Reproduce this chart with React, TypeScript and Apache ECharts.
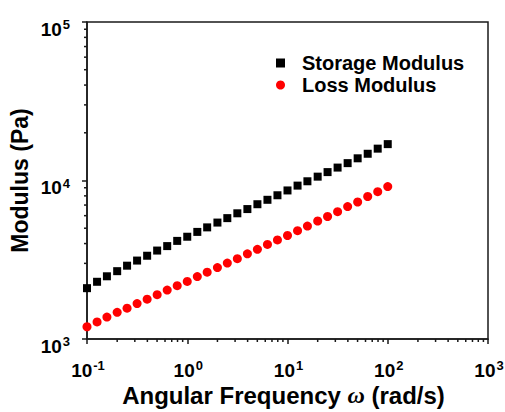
import React, { useEffect, useRef } from 'react';
import * as echarts from 'echarts';

const omega = [
  0.1, 0.126, 0.158, 0.2, 0.251, 0.316, 0.398, 0.501, 0.631, 0.794,
  1, 1.26, 1.58, 2, 2.51, 3.16, 3.98, 5.01, 6.31, 7.94,
  10, 12.6, 15.8, 20, 25.1, 31.6, 39.8, 50.1, 63.1, 79.4, 100,
];
const storageModulus = [
  2093, 2296, 2487, 2679, 2901, 3125, 3352, 3614, 3856, 4159,
  4418, 4739, 5061, 5427, 5789, 6210, 6603, 7085, 7555, 8070,
  8655, 9284, 9888, 10576, 11298, 12064, 12870, 13804, 14746, 15885, 16963,
];
const lossModulus = [
  1195, 1281, 1375, 1474, 1566, 1673, 1784, 1905, 2035, 2171,
  2309, 2476, 2641, 2821, 3013, 3214, 3446, 3681, 3950, 4218,
  4499, 4826, 5154, 5551, 5929, 6360, 6850, 7316, 7925, 8499, 9156,
];
const xRange = [0.1, 1000];
const yRange = [1000, 100000];
const xMajorTicks = [0.1, 1, 10, 100, 1000];
const yMajorTicks = [1000, 10000, 100000];
const minorMultipliers = [2, 3, 4, 5, 6, 7, 8, 9];
const xDecades = [0.1, 1, 10, 100];
const yDecades = [1000, 10000];

const FONT = '"Liberation Sans", Arial, sans-serif';

export default function App() {
  const ref = useRef<HTMLDivElement>(null);
  useEffect(() => {
    const chart = echarts.init(ref.current!, null, { renderer: 'svg' });
    const minorX: number[][] = [];
    xDecades.forEach((d) => minorMultipliers.forEach((m) => minorX.push([d * m, yRange[0], 0])));
    const minorY: number[][] = [];
    yDecades.forEach((d) => minorMultipliers.forEach((m) => minorY.push([xRange[0], d * m, 1])));
    const labelData: number[][] = [
      ...xMajorTicks.map((v) => [v, yRange[0], 0]),
      ...yMajorTicks.map((v) => [xRange[0], v, 1]),
    ];

    const labelRich = {
      b: { fontSize: 19, fontWeight: 'bold', fontFamily: FONT, fill: '#000', lineHeight: 22 },
      sup: { fontSize: 13, fontWeight: 'bold', fontFamily: FONT, fill: '#000', verticalAlign: 'top', lineHeight: 22, padding: [0, 0, 0, 1] },
    };
    const axisLineStyle = { color: '#1a1a1a', width: 1.5 };

    chart.setOption({
      animation: false,
      backgroundColor: '#fff',
      grid: {
        left: 81, right: 17, top: 22, bottom: 61,
        show: true, borderColor: '#1a1a1a', borderWidth: 1.5,
      },
      legend: {
        orient: 'vertical',
        left: 271,
        top: 48,
        itemWidth: 9,
        itemHeight: 9,
        itemGap: 2,
        textStyle: { fontSize: 20, fontWeight: 'bold', fontFamily: FONT, color: '#000', padding: [0, 0, 0, 12] },
        data: [
          { name: 'Storage Modulus', icon: 'rect', itemStyle: { color: '#000', opacity: 1 } },
          { name: 'Loss Modulus', icon: 'circle', itemStyle: { color: '#ff0000', opacity: 1 } },
        ],
      },
      xAxis: {
        type: 'log',
        logBase: 10,
        min: xRange[0],
        max: xRange[1],
        interval: 1,
        name: 'Angular Frequency {w|ω} (rad/s)',
        nameLocation: 'middle',
        nameGap: 44,
        nameTextStyle: {
          fontSize: 24, fontWeight: 'bold', fontFamily: FONT, color: '#000',
          padding: [0, 8, 0, 0],
          rich: {
            w: { fontSize: 24, fontWeight: 'bold', fontStyle: 'italic', fontFamily: '"Liberation Serif", serif', color: '#000' },
          },
        },
        axisLine: { show: true, lineStyle: axisLineStyle },
        axisTick: { show: true, inside: false, length: 5, lineStyle: axisLineStyle },
        splitLine: { show: false },
        axisLabel: { show: false },
      },
      yAxis: {
        type: 'log',
        logBase: 10,
        min: yRange[0],
        max: yRange[1],
        interval: 1,
        name: 'Modulus (Pa)',
        nameLocation: 'middle',
        nameGap: 56,
        nameTextStyle: { fontSize: 23, fontWeight: 'bold', fontFamily: FONT, color: '#000' },
        axisLine: { show: true, lineStyle: axisLineStyle },
        axisTick: { show: true, inside: false, length: 5, lineStyle: axisLineStyle },
        splitLine: { show: false },
        axisLabel: { show: false },
      },
      series: [
        {
          name: 'Storage Modulus',
          type: 'scatter',
          symbol: 'rect',
          symbolSize: 8,
          itemStyle: { color: '#000', opacity: 1 },
          data: omega.map((w, i) => [w, storageModulus[i]]),
        },
        {
          name: 'Loss Modulus',
          type: 'scatter',
          symbol: 'circle',
          symbolSize: 9,
          itemStyle: { color: '#ff0000', opacity: 1 },
          data: omega.map((w, i) => [w, lossModulus[i]]),
        },
        {
          name: 'minor',
          type: 'custom',
          silent: true,
          clip: false,
          data: [...minorX, ...minorY],
          renderItem: (params: any, api: any) => {
            const p = api.coord([api.value(0), api.value(1)]);
            const dir = api.value(2);
            const shape = dir === 0
              ? { x1: p[0], y1: p[1], x2: p[0], y2: p[1] + 3 }
              : { x1: p[0], y1: p[1], x2: p[0] - 3, y2: p[1] };
            return { type: 'line', shape, style: { stroke: '#1a1a1a', lineWidth: 1.5 } };
          },
        },
        {
          name: 'tickLabels',
          type: 'custom',
          silent: true,
          clip: false,
          data: labelData,
          renderItem: (params: any, api: any) => {
            const v = [api.value(0), api.value(1)];
            const p = api.coord(v);
            const dir = api.value(2);
            const exp = Math.round(Math.log10(dir === 0 ? v[0] : v[1]));
            const text = `{b|10}{sup|${exp}}`;
            return dir === 0
              ? { type: 'text', x: p[0] + 1, y: p[1] + 20, style: { text, rich: labelRich, align: 'center', verticalAlign: 'top' } }
              : { type: 'text', x: 70, y: p[1] + 7, style: { text, rich: labelRich, align: 'right', verticalAlign: 'middle' } };
          },
        },
      ],
    });
    return () => chart.dispose();
  }, []);
  return <div ref={ref} style={{ position: 'fixed', left: 0, top: 0, width: 505, height: 412 }} />;
}
